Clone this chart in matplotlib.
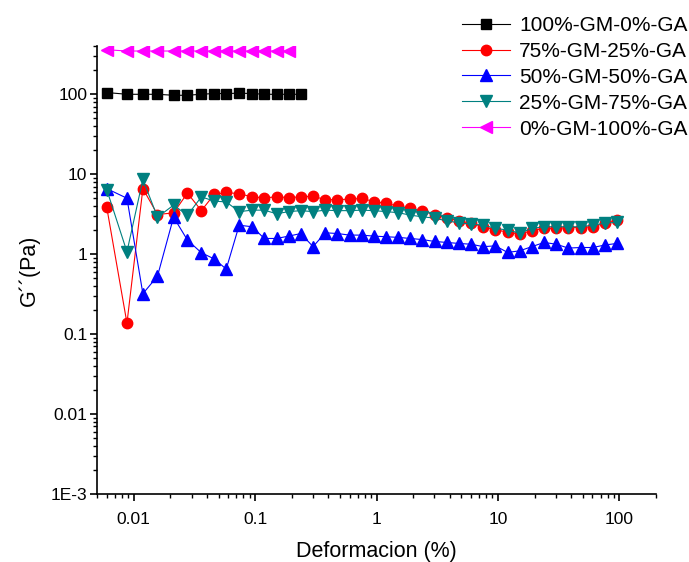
import matplotlib
matplotlib.use("Agg")
from matplotlib import pyplot as plt
from matplotlib.ticker import LogLocator, FixedLocator, FuncFormatter, NullFormatter

plt.rcParams['font.family'] = ['Liberation Sans', 'DejaVu Sans']

# strain (%)
strain = [0.0060, 0.0088, 0.0119, 0.0157, 0.0213, 0.0277, 0.0361, 0.0461, 0.0578, 0.0739,
          0.0945, 0.119, 0.150, 0.189, 0.238, 0.300, 0.378, 0.476, 0.599, 0.755,
          0.950, 1.20, 1.51, 1.90, 2.39, 3.01, 3.79, 4.77, 6.01, 7.57,
          9.53, 12.0, 15.1, 19.0, 24.0, 30.2, 38.0, 47.9, 60.3, 75.9, 95.5]

g_100_0 = [105, 99.8, 99.8, 99.8, 97, 97, 100, 102, 102, 103, 102, 99.8, 99.8, 99.8, 99.8]
g_75_25 = [3.84, 0.137, 6.6, 3.13, 3.28, 5.8, 3.5, 5.6, 5.9, 5.7,
           5.2, 5.06, 5.2, 5.1, 5.2, 5.3, 4.8, 4.8, 4.87, 4.97,
           4.55, 4.3, 4.0, 3.73, 3.45, 3.1, 2.85, 2.6, 2.43, 2.2,
           2.0, 1.9, 1.77, 1.97, 2.1, 2.1, 2.15, 2.15, 2.2, 2.43, 2.7]
g_50_50 = [6.6, 5.0, 0.32, 0.53, 2.9, 1.5, 1.04, 0.87, 0.65, 2.3,
           2.2, 1.57, 1.57, 1.68, 1.81, 1.24, 1.85, 1.81, 1.73, 1.73,
           1.68, 1.65, 1.62, 1.57, 1.52, 1.44, 1.40, 1.36, 1.33, 1.24,
           1.27, 1.05, 1.1, 1.24, 1.40, 1.33, 1.19, 1.21, 1.21, 1.30, 1.36]
g_25_75 = [6.4, 1.07, 8.6, 2.9, 4.1, 3.07, 5.2, 4.6, 4.5, 3.4,
           3.55, 3.55, 3.2, 3.4, 3.5, 3.4, 3.55, 3.5, 3.5, 3.55,
           3.5, 3.4, 3.3, 3.07, 2.93, 2.82, 2.6, 2.47, 2.37, 2.3,
           2.1, 2.0, 1.83, 2.1, 2.2, 2.2, 2.2, 2.2, 2.3, 2.44, 2.5]
g_0_100 = [360, 347, 347, 347, 347, 347, 347, 347, 347, 347, 347, 347, 347, 347]

labels = ['100%-GM-0%-GA', '75%-GM-25%-GA', '50%-GM-50%-GA', '25%-GM-75%-GA', '0%-GM-100%-GA']

fig = plt.figure(figsize=(6.89, 5.62), dpi=100)
ax = fig.add_axes([0.141, 0.121, 0.811, 0.797])

ax.plot(strain[:len(g_100_0)], g_100_0, '-s', color='black', ms=6.5, lw=0.8, label=labels[0])
ax.plot(strain, g_75_25, '-o', color='red', ms=7.5, lw=0.8, label=labels[1])
ax.plot(strain, g_50_50, '-^', color='blue', ms=8.5, lw=0.8, label=labels[2])
ax.plot(strain, g_25_75, '-v', color='#008080', ms=8.5, lw=0.8, label=labels[3])
ax.plot(strain[:len(g_0_100)], g_0_100, '-<', color='magenta', ms=8.5, lw=0.8, label=labels[4])

ax.set_xscale('log')
ax.set_yscale('log')
ax.set_xlim(0.005, 200)
ax.set_ylim(1e-3, 400)

for s in ['top', 'right']:
    ax.spines[s].set_visible(False)
for s in ['left', 'bottom']:
    ax.spines[s].set_linewidth(1.2)

ytick_text = {1e-3: '1E-3', 1e-2: '0.01', 1e-1: '0.1', 1: '1', 10: '10', 100: '100'}
xtick_text = {1e-2: '0.01', 1e-1: '0.1', 1: '1', 10: '10', 100: '100'}
ax.yaxis.set_major_locator(FixedLocator(list(ytick_text)))
ax.xaxis.set_major_locator(FixedLocator(list(xtick_text)))
ax.yaxis.set_major_formatter(FuncFormatter(lambda v, p: ytick_text.get(v, '')))
ax.xaxis.set_major_formatter(FuncFormatter(lambda v, p: xtick_text.get(v, '')))
ax.xaxis.set_minor_locator(LogLocator(base=10, subs=range(2, 10), numticks=20))
ax.yaxis.set_minor_locator(LogLocator(base=10, subs=range(2, 10), numticks=20))
ax.xaxis.set_minor_formatter(NullFormatter())
ax.yaxis.set_minor_formatter(NullFormatter())
ax.tick_params(which='major', direction='out', length=5, width=1.2, labelsize=12.5)
ax.tick_params(which='minor', direction='out', length=3, width=1.0)
ax.tick_params(axis='x', which='major', pad=8)
ax.tick_params(axis='y', which='major', pad=2)

ax.set_xlabel('Deformacion (%)', fontsize=15.5, labelpad=10)
ax.set_ylabel('G\u00b4\u00b4(Pa)', fontsize=15.5, labelpad=8)

fig.legend(loc='upper right', bbox_to_anchor=(1.013, 0.99), frameon=False, fontsize=15,
           handlelength=2.3, handletextpad=0.45, labelspacing=0.33, borderaxespad=0.1)

fig.savefig('out.png', dpi=100)
